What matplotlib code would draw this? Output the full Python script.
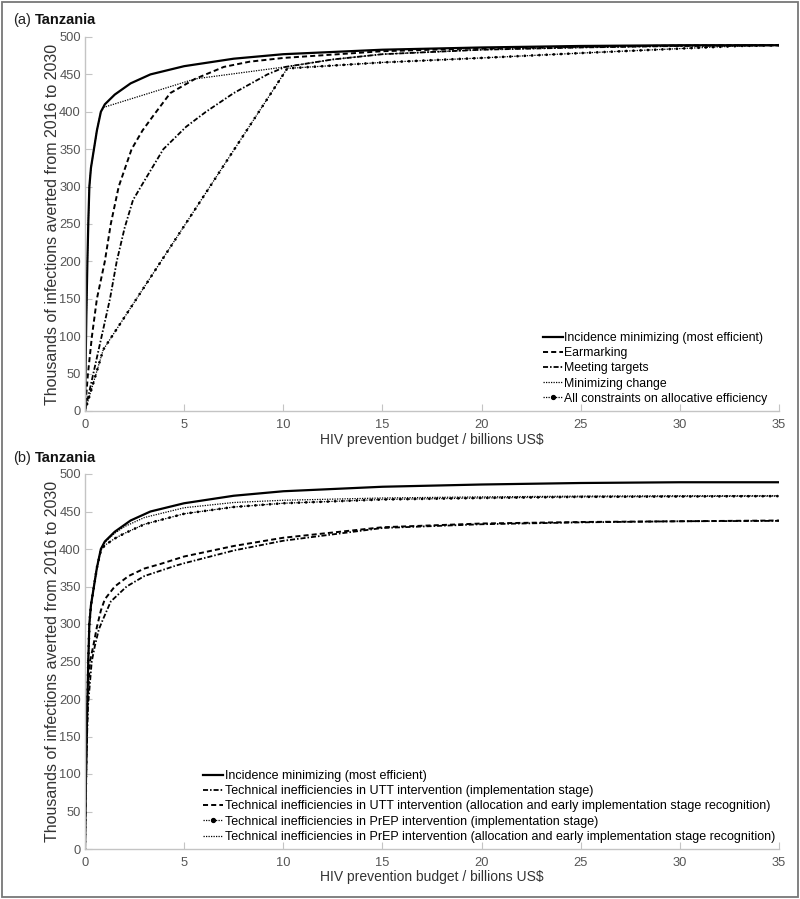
import matplotlib
matplotlib.use("Agg")
import matplotlib.pyplot as plt
from matplotlib.patches import Rectangle
from matplotlib.lines import Line2D

plt.rcParams['font.family'] = ['Liberation Sans', 'DejaVu Sans']

# ---- panel (a): allocative efficiency constraints ----
eff_x = [0, 0.03, 0.07, 0.12, 0.17, 0.22, 0.3, 0.45, 0.6, 0.8, 1.0, 1.5, 2.3, 3.3, 5, 7.5, 10, 15, 20, 25, 30, 35]
eff_y = [0, 60, 130, 200, 255, 300, 325, 350, 375, 400, 410, 423, 438, 450, 461, 471, 477, 483, 486, 488, 489, 489]

earmark_x = [0, 0.15, 0.35, 0.6, 1.0, 1.3, 1.7, 2.35, 2.9, 3.45, 4.3, 5.55, 7, 8.3, 10, 15, 20, 25, 30, 35]
earmark_y = [0, 50, 100, 150, 200, 250, 300, 350, 375, 395, 425, 444, 460, 467, 472, 481, 485, 487, 488.5, 489]

targets_x = [0, 0.42, 0.84, 1.26, 1.6, 2.0, 2.42, 3.0, 3.95, 5.1, 6.1, 7.5, 9.2, 10.1, 12.5, 15, 20, 25, 30, 35]
targets_y = [0, 50, 100, 150, 200, 245, 282, 308, 350, 380, 400, 425, 450, 460, 470, 477, 483, 486, 488, 489]

minchange_x = [0, 0.03, 0.07, 0.12, 0.17, 0.22, 0.3, 0.45, 0.6, 0.8, 0.95, 5.55, 10.1, 12.5, 15, 20, 25, 30, 35]
minchange_y = [0, 60, 130, 200, 255, 300, 325, 350, 375, 400, 406, 444, 460, 470, 477, 483, 486, 488, 489]

allcons_x = [0, 0.92, 10.2, 15, 20, 25, 30, 33, 35]
allcons_y = [0, 82, 458, 466, 472, 478.5, 484.5, 488, 489]

# ---- panel (b): technical inefficiencies ----
prep_x = [0, 0.03, 0.07, 0.12, 0.17, 0.22, 0.3, 0.45, 0.6, 0.8, 1.0, 1.5, 2, 3, 5, 7.5, 10, 15, 20, 25, 30, 35]
prep_alloc_y = [0, 60, 130, 200, 255, 300, 325, 350, 375, 400, 409, 421, 430, 442, 455, 462, 465, 468, 469.5, 470.5, 471, 471]
prep_impl_y = [0, 60, 130, 200, 255, 300, 325, 350, 375, 398, 405, 414, 421, 433, 447, 456, 461, 466, 468, 469.5, 470, 470.5]

utt_alloc_x = [0, 0.03, 0.07, 0.12, 0.25, 0.42, 0.6, 0.8, 1.0, 1.5, 2.2, 3.0, 3.8, 5, 7.5, 10, 15, 20, 25, 30, 35]
utt_alloc_y = [0, 60, 130, 190, 250, 271, 296, 318, 333, 350, 364, 374, 380, 390, 404, 415, 429, 434, 436, 437, 438]
utt_impl_x = [0, 0.03, 0.08, 0.15, 0.34, 0.5, 0.7, 0.92, 1.3, 2.1, 3.0, 4.6, 5, 7.5, 10, 15, 20, 25, 30, 35]
utt_impl_y = [0, 60, 130, 190, 250, 271, 293, 307, 330, 350, 364, 378, 381, 398, 411, 428, 433, 435.5, 437, 437.5]

labels_a = ['Incidence minimizing (most efficient)', 'Earmarking', 'Meeting targets',
            'Minimizing change', 'All constraints on allocative efficiency']
labels_b = ['Incidence minimizing (most efficient)',
            'Technical inefficiencies in UTT intervention (implementation stage)',
            'Technical inefficiencies in UTT intervention (allocation and early implementation stage recognition)',
            'Technical inefficiencies in PrEP intervention (implementation stage)',
            'Technical inefficiencies in PrEP intervention (allocation and early implementation stage recognition)']

xticks = list(range(0, 36, 5))
yticks = list(range(0, 501, 50))
ylab = 'Thousands of infections averted from 2016 to 2030'
xlab = 'HIV prevention budget / billions US$'

W, H = 800, 899
fig = plt.figure(figsize=(8, 8.99), dpi=100)
fig.patches.append(Rectangle((0.002, 0.002), 0.996, 0.996, transform=fig.transFigure,
                             fill=False, edgecolor='#777777', lw=1.3))

ax_a = fig.add_axes([85 / W, 1 - 411 / H, 694 / W, 374 / H])
ax_b = fig.add_axes([85 / W, 1 - 849 / H, 694 / W, 375 / H])

solid = dict(color='black', lw=1.6, ls='-')
dashed = dict(color='black', lw=1.4, ls=(0, (2.6, 1.6)))
dashdot = dict(color='black', lw=1.3, ls=(0, (2.8, 1.1, 0.85, 1.1)))
dotted = dict(color='black', lw=0.9, ls=(0, (1, 1)))
# small round dots laid along the dotted line
dots = dict(color='black', lw=2.0, ls=(0, (0.01, 2.6)), dash_capstyle='round')


def dot_handle():
    return Line2D([], [], color='black', lw=0.9, ls=(0, (1, 1)), marker='o', ms=2.8)


def style_handle(st):
    return Line2D([], [], **st)


ax_a.plot(eff_x, eff_y, **solid)
ax_a.plot(earmark_x, earmark_y, **dashed)
ax_a.plot(targets_x, targets_y, **dashdot)
ax_a.plot(minchange_x, minchange_y, **dotted)
ax_a.plot(allcons_x, allcons_y, **dotted)
ax_a.plot(allcons_x, allcons_y, **dots)
handles_a = [style_handle(solid), style_handle(dashed), style_handle(dashdot),
             style_handle(dotted), dot_handle()]

ax_b.plot(eff_x, eff_y, **solid)
ax_b.plot(utt_impl_x, utt_impl_y, **dashdot)
ax_b.plot(utt_alloc_x, utt_alloc_y, **dashed)
ax_b.plot(prep_x, prep_impl_y, **dotted)
ax_b.plot(prep_x, prep_impl_y, **dots)
ax_b.plot(prep_x, prep_alloc_y, **dotted)
handles_b = [style_handle(solid), style_handle(dashdot), style_handle(dashed),
             dot_handle(), style_handle(dotted)]

for ax in (ax_a, ax_b):
    ax.set_xlim(0, 35)
    ax.set_ylim(0, 500)
    ax.set_xticks(xticks)
    ax.set_yticks(yticks)
    for s in ('top', 'right'):
        ax.spines[s].set_visible(False)
    for s in ('left', 'bottom'):
        ax.spines[s].set_color('#c4c4c4')
        ax.spines[s].set_linewidth(1.0)
    ax.tick_params(direction='in', length=5, color='#c4c4c4', labelcolor='#555555', labelsize=9.3)
    ax.tick_params(axis='x', pad=6)
    ax.tick_params(axis='y', pad=3)
    ax.set_ylabel(ylab, fontsize=11.5, color='#333333')
    ax.set_xlabel(xlab, fontsize=10, color='#333333')
    ax.yaxis.set_label_coords(-0.036, 0.5)

ax_a.xaxis.set_label_coords(0.5, -0.058)
ax_b.xaxis.set_label_coords(0.5, -0.056)

leg_kw = dict(frameon=False, handlelength=1.6, handletextpad=0.15, labelspacing=0.26,
              borderpad=0, borderaxespad=0, loc='upper left', numpoints=1)
ax_a.legend(handles_a, labels_a, fontsize=8.8, bbox_to_anchor=(543 / W, 1 - 332 / H),
            bbox_transform=fig.transFigure, **leg_kw)
ax_b.legend(handles_b, labels_b, fontsize=9, bbox_to_anchor=(203 / W, 1 - 770 / H),
            bbox_transform=fig.transFigure, **leg_kw)

for yc, tag in ((20, '(a)'), (458, '(b)')):
    fig.text(13 / W, 1 - yc / H, tag, fontsize=10.5, va='center', ha='left', color='#222222')
    fig.text(35 / W, 1 - yc / H, 'Tanzania', fontsize=10.5, va='center', ha='left',
             fontweight='bold', color='#111111')

fig.savefig('out.png', dpi=100)
